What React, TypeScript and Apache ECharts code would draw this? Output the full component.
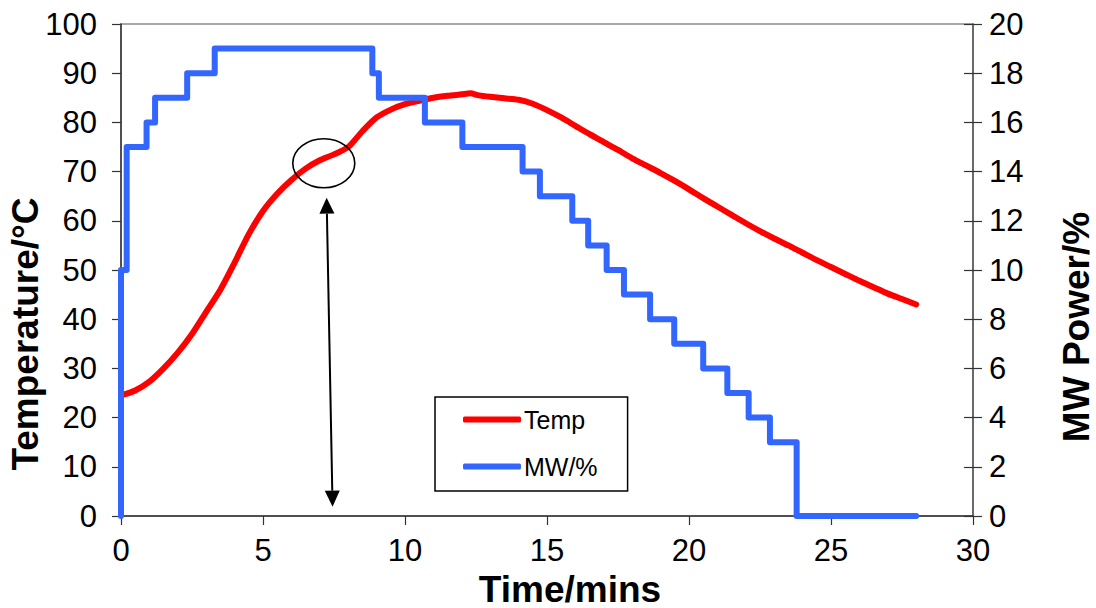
import { useEffect, useRef } from 'react';
import * as echarts from 'echarts';

const FONT = '"Liberation Sans", Arial, Helvetica, sans-serif';

// Temperature curve (time in minutes, temperature in °C)
const tempTime = [0, 0.5, 1.0, 1.5, 2.0, 2.5, 3.0, 3.5, 4.0, 4.5, 5.0, 5.5, 6.0, 6.5, 7.0, 7.5, 8.0, 8.5, 9.0, 9.5, 10.0, 10.5, 11.0, 11.5, 12.0, 12.3, 12.6, 13.0, 13.5, 14.0, 14.5, 15.0, 15.5, 16.0, 16.5, 17.0, 17.5, 18.0, 18.5, 19.0, 19.5, 20.0, 20.5, 21.0, 21.5, 22.0, 22.5, 23.0, 23.5, 24.0, 24.5, 25.0, 25.5, 26.0, 26.5, 27.0, 27.5, 28.0];
const tempValues = [24.5, 25.5, 27.3, 30.0, 33.2, 37.0, 41.5, 46.0, 51.5, 57.3, 62.0, 65.5, 68.3, 70.6, 72.3, 73.5, 75.0, 78.2, 81.0, 82.6, 83.7, 84.4, 85.0, 85.4, 85.7, 85.9, 85.5, 85.2, 84.9, 84.6, 83.8, 82.5, 81.0, 79.3, 77.6, 76.0, 74.4, 72.7, 71.2, 69.7, 68.1, 66.4, 64.6, 62.9, 61.2, 59.5, 57.9, 56.4, 55.0, 53.5, 52.0, 50.6, 49.2, 47.8, 46.5, 45.2, 44.1, 43.0];

// Microwave power steps (start time of each level in minutes, power in %)
const mwTime = [0, 0, 0.2, 0.9, 1.2, 2.33, 3.3, 8.85, 9.08, 10.7, 12.02, 14.14, 14.75, 15.89, 16.45, 17.1, 17.71, 18.63, 19.48, 20.5, 21.35, 22.1, 22.85, 23.79, 28.0];
const mwPower = [0, 10, 15, 16, 17, 18, 19, 18, 17, 16, 15, 14, 13, 12, 11, 10, 9, 8, 7, 6, 5, 4, 3, 0, 0];

// Annotation anchors in data coordinates (time, temperature)
const ellipseCenter = [7.14, 71.7];
const arrowTop = [7.24, 64.7];
const arrowBottom = [7.45, 1.9];

export default function App() {
  const ref = useRef<HTMLDivElement>(null);

  useEffect(() => {
    document.body.style.margin = '0';
    const chart = echarts.init(ref.current!, null, { renderer: 'svg' });

    const labelStyle = { fontFamily: FONT, fontSize: 31, color: '#000' };
    const nameBase = { fontFamily: FONT, fontSize: 37, fontWeight: 'bold' as const, color: '#000' };

    const option: any = {
      animation: false,
      backgroundColor: '#fff',
      grid: {
        left: 121,
        right: 123,
        top: 24,
        bottom: 92,
        show: true,
        borderColor: '#8c8c8c',
        borderWidth: 1.5,
        backgroundColor: 'transparent',
        outerBoundsMode: 'none',
        containLabel: false,
      },
      legend: {
        orient: 'vertical',
        left: 435,
        top: 397,
        borderColor: '#000',
        borderWidth: 1.5,
        padding: [10, 30, 12, 28],
        itemWidth: 58,
        itemHeight: 6,
        itemGap: 22,
        textStyle: { fontFamily: FONT, fontSize: 25, color: '#000', padding: [0, 0, 0, -2] },
        data: [
          { name: 'Temp', icon: 'roundRect' },
          { name: 'MW/%', icon: 'roundRect' },
        ],
      },
      xAxis: {
        type: 'value',
        min: 0,
        max: 30,
        interval: 5,
        name: 'Time/mins',
        nameLocation: 'middle',
        nameGap: 56,
        nameMoveOverlap: false,
        nameTextStyle: { ...nameBase, lineHeight: 35, padding: [0, 0, 0, 46] },
        axisLine: { show: true, lineStyle: { color: '#333', width: 1.5 } },
        axisTick: { show: true, inside: false, length: 9, lineStyle: { color: '#333', width: 1.2 } },
        axisLabel: { ...labelStyle, margin: 19 },
        splitLine: { show: false },
      },
      yAxis: [
        {
          type: 'value',
          min: 0,
          max: 100,
          interval: 10,
          position: 'left',
          name: 'Temperature/°C',
          nameLocation: 'middle',
          nameRotate: 90,
          nameGap: 77,
          nameMoveOverlap: false,
          nameTextStyle: { ...nameBase, padding: [0, 128, 0, 0] },
          axisLine: { show: true, lineStyle: { color: '#333', width: 1.5 } },
          axisTick: { show: true, inside: false, length: 9, lineStyle: { color: '#333', width: 1.2 } },
          axisLabel: { ...labelStyle, margin: 24 },
          splitLine: { show: false },
        },
        {
          type: 'value',
          min: 0,
          max: 20,
          interval: 2,
          position: 'right',
          name: 'MW Power/%',
          nameLocation: 'middle',
          nameRotate: 90,
          nameGap: 85,
          nameMoveOverlap: false,
          nameTextStyle: { ...nameBase, padding: [0, 114, 0, 0] },
          axisLine: { show: true, lineStyle: { color: '#555', width: 1.5 } },
          axisTick: { show: true, inside: false, length: 9, lineStyle: { color: '#333', width: 1.2 } },
          axisLabel: { ...labelStyle, margin: 16 },
          splitLine: { show: false },
        },
        {
          type: 'value',
          min: 0,
          max: 20,
          interval: 2,
          position: 'right',
          axisLine: { show: false },
          axisTick: { show: true, inside: true, length: 9, lineStyle: { color: '#333', width: 1.2 } },
          axisLabel: { show: false },
          splitLine: { show: false },
        },
      ],
      series: [
        {
          name: 'Temp',
          type: 'line',
          xAxisIndex: 0,
          yAxisIndex: 0,
          data: tempTime.map((t, i) => [t, tempValues[i]]),
          smooth: 0.25,
          symbol: 'none',
          color: '#ff0000',
          lineStyle: { color: '#ff0000', width: 6, cap: 'round', join: 'round' },
          z: 3,
        },
        {
          name: 'MW/%',
          type: 'line',
          xAxisIndex: 0,
          yAxisIndex: 1,
          data: mwTime.map((t, i) => [t, mwPower[i]]),
          step: 'end',
          symbol: 'none',
          color: '#3366ff',
          lineStyle: { color: '#3366ff', width: 6, cap: 'round', join: 'round' },
          clip: false,
          z: 4,
        },
      ],
    };

    chart.setOption(option);

    const toPx = (p: number[]) =>
      chart.convertToPixel({ xAxisIndex: 0, yAxisIndex: 0 }, p) as number[];
    const c = toPx(ellipseCenter);
    const top = toPx(arrowTop);
    const bot = toPx(arrowBottom);
    const dx = bot[0] - top[0];
    const dy = bot[1] - top[1];
    const len = Math.sqrt(dx * dx + dy * dy);
    const ux = dx / len;
    const uy = dy / len;
    const px = -uy;
    const py = ux;
    const headLen = 16;
    const headHalf = 7.5;
    const topBase = [top[0] + ux * headLen, top[1] + uy * headLen];
    const botBase = [bot[0] - ux * headLen, bot[1] - uy * headLen];

    chart.setOption({
      graphic: [
        {
          type: 'ellipse',
          shape: { cx: c[0], cy: c[1], rx: 31, ry: 24.5 },
          style: { fill: 'none', stroke: '#000', lineWidth: 1.6 },
          z: 100,
        },
        {
          type: 'line',
          shape: { x1: topBase[0], y1: topBase[1], x2: botBase[0], y2: botBase[1] },
          style: { stroke: '#000', lineWidth: 2 },
          z: 100,
        },
        {
          type: 'polygon',
          shape: {
            points: [
              [top[0], top[1]],
              [topBase[0] + px * headHalf, topBase[1] + py * headHalf],
              [topBase[0] - px * headHalf, topBase[1] - py * headHalf],
            ],
          },
          style: { fill: '#000' },
          z: 100,
        },
        {
          type: 'polygon',
          shape: {
            points: [
              [bot[0], bot[1]],
              [botBase[0] + px * headHalf, botBase[1] + py * headHalf],
              [botBase[0] - px * headHalf, botBase[1] - py * headHalf],
            ],
          },
          style: { fill: '#000' },
          z: 100,
        },
      ],
    });

    return () => chart.dispose();
  }, []);

  return <div ref={ref} style={{ width: 1096, height: 608 }} />;
}
